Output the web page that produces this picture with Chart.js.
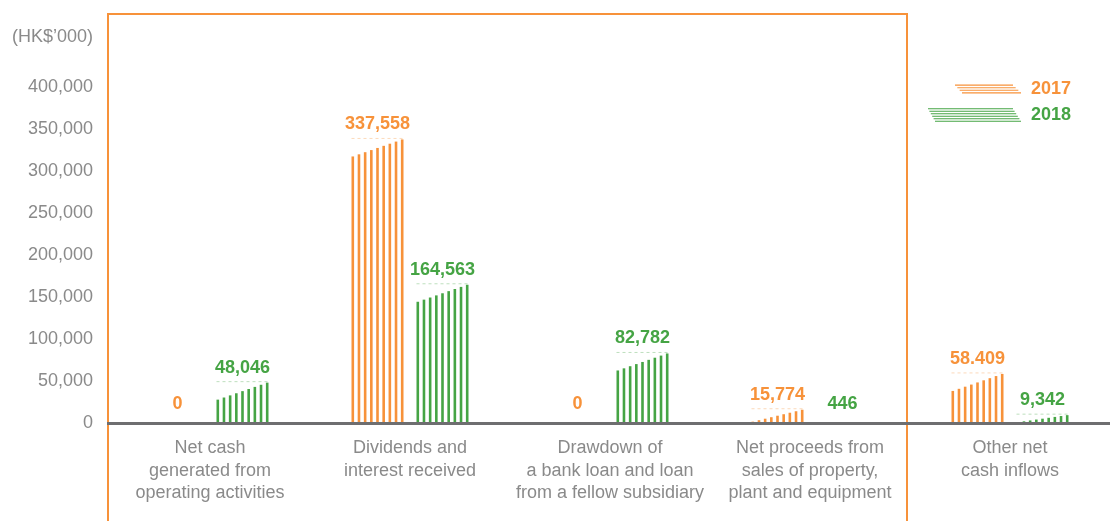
<!DOCTYPE html>
<html lang="en">
<head>
<meta charset="UTF-8">
<title>Cash inflows</title>
<script src="https://cdn.jsdelivr.net/npm/chart.js"></script>
<style>
    body { margin: 0; background: #fff; }
    .wrap { width: 1110px; height: 521px; position: relative; }
</style>
</head>
<body>
<div class="wrap"><canvas id="chart"></canvas></div>
<script>
    // data
    const categories = [
        ['Net cash', 'generated from', 'operating activities'],
        ['Dividends and', 'interest received'],
        ['Drawdown of', 'a bank loan and loan', 'from a fellow subsidiary'],
        ['Net proceeds from', 'sales of property,', 'plant and equipment'],
        ['Other net', 'cash inflows']
    ];
    const seriesNames = ['2017', '2018'];
    const values2017 = [0, 337558, 0, 15774, 58409];
    const values2018 = [48046, 164563, 82782, 446, 9342];
    const labels2017 = ['0', '337,558', '0', '15,774', '58.409'];
    const labels2018 = ['48,046', '164,563', '82,782', '446', '9,342'];
    const yMax = 400000;
    const yStep = 50000;
    const unitText = '(HK$\u2019000)';

    const ORANGE = '#f7923a';
    const GREEN = '#45a444';
    const GREY = '#8a8a8a';
    const FONT = '"Liberation Sans", Arial, sans-serif';

    // striped bars, value labels, frame, legend
    const decor = {
        id: 'decor',
        beforeDraw(chart) {
            const ctx = chart.ctx;
            const x = chart.scales.x;
            const area = chart.chartArea;
            const split = (x.getPixelForValue(3) + x.getPixelForValue(4)) / 2 - 3;
            ctx.save();
            ctx.strokeStyle = ORANGE;
            ctx.lineWidth = 2;
            ctx.beginPath();
            ctx.moveTo(area.left - 2, chart.height);
            ctx.lineTo(area.left - 2, 14);
            ctx.lineTo(split, 14);
            ctx.lineTo(split, chart.height);
            ctx.stroke();
            ctx.fillStyle = GREY;
            ctx.font = '18px ' + FONT;
            ctx.textAlign = 'right';
            ctx.textBaseline = 'middle';
            ctx.fillText(unitText, area.left - 17, 37);
            ctx.restore();
        },
        afterDatasetsDraw(chart) {
            const ctx = chart.ctx;
            const area = chart.chartArea;
            const textSets = [labels2017, labels2018];
            ctx.save();
            chart.data.datasets.forEach((ds, di) => {
                const meta = chart.getDatasetMeta(di);
                meta.data.forEach((bar, i) => {
                    const p = bar.getProps(['x', 'y', 'base', 'width'], true);
                    const h = p.base - p.y;
                    const n = 9, lw = 2.6;
                    if (h > 0.5) {
                        const drop = Math.min(17, h * 0.9);
                        ctx.fillStyle = ds.stripeColor;
                        for (let k = 0; k < n; k++) {
                            const sx = p.x - p.width / 2 + k * (p.width - lw) / (n - 1);
                            const top = p.y + drop * (n - 1 - k) / (n - 1);
                            ctx.fillRect(sx, top, lw, p.base - top);
                        }
                        ctx.strokeStyle = ds.stripeColor;
                        ctx.globalAlpha = 0.35;
                        ctx.lineWidth = 1;
                        ctx.setLineDash([3, 3]);
                        ctx.beginPath();
                        ctx.moveTo(p.x - p.width / 2, p.y - 1);
                        ctx.lineTo(p.x + p.width / 2, p.y - 1);
                        ctx.stroke();
                        ctx.setLineDash([]);
                        ctx.globalAlpha = 1;
                    }
                    ctx.fillStyle = ds.stripeColor;
                    ctx.font = 'bold 18px ' + FONT;
                    ctx.textAlign = 'center';
                    ctx.textBaseline = 'middle';
                    ctx.fillText(textSets[di][i], p.x, Math.min(p.y - 15, p.base - 19));
                });
            });

            // x axis line
            ctx.strokeStyle = '#6e6e70';
            ctx.lineWidth = 3;
            ctx.beginPath();
            ctx.moveTo(area.left - 3, area.bottom + 0.5);
            ctx.lineTo(chart.width, area.bottom + 0.5);
            ctx.stroke();

            // legend
            const legend = [
                { y: 89, lines: 4, gap: 2.6, left: 955, color: ORANGE },
                { y: 115, lines: 6, gap: 2.5, left: 928, color: GREEN }
            ];
            legend.forEach((lg, li) => {
                ctx.strokeStyle = lg.color;
                ctx.lineWidth = 1.1;
                const y0 = lg.y - (lg.lines - 1) * lg.gap / 2;
                for (let k = 0; k < lg.lines; k++) {
                    const yy = y0 + k * lg.gap;
                    const t = k / (lg.lines - 1);
                    ctx.beginPath();
                    ctx.moveTo(lg.left + t * 7, yy);
                    ctx.lineTo(1013 + t * 8, yy);
                    ctx.stroke();
                }
                ctx.fillStyle = lg.color;
                ctx.font = 'bold 18px ' + FONT;
                ctx.textAlign = 'left';
                ctx.textBaseline = 'middle';
                ctx.fillText(seriesNames[li], 1031, lg.y);
            });
            ctx.restore();
        }
    };

    new Chart(document.getElementById('chart'), {
        type: 'bar',
        data: {
            labels: categories,
            datasets: [
                { label: seriesNames[0], data: values2017, stripeColor: ORANGE,
                  backgroundColor: 'rgba(0,0,0,0)', borderWidth: 0,
                  categoryPercentage: 0.65, barPercentage: 0.8 },
                { label: seriesNames[1], data: values2018, stripeColor: GREEN,
                  backgroundColor: 'rgba(0,0,0,0)', borderWidth: 0,
                  categoryPercentage: 0.65, barPercentage: 0.8 }
            ]
        },
        options: {
            responsive: true,
            maintainAspectRatio: false,
            animation: false,
            layout: { padding: { top: 87, right: 0, left: 0, bottom: 0 } },
            plugins: {
                legend: { display: false },
                tooltip: { enabled: false }
            },
            scales: {
                x: {
                    grid: { display: false, drawTicks: false },
                    border: { display: false },
                    ticks: {
                        color: GREY,
                        font: { family: FONT, size: 18, lineHeight: 1.25 },
                        padding: 14,
                        maxRotation: 0,
                        autoSkip: false
                    },
                    afterFit(scale) { scale.height = 98; }
                },
                y: {
                    min: 0,
                    max: yMax,
                    grid: { display: false, drawTicks: false },
                    border: { display: false },
                    ticks: {
                        stepSize: yStep,
                        color: GREY,
                        font: { family: FONT, size: 18 },
                        padding: 17
                    },
                    afterFit(scale) { scale.width = 110; }
                }
            }
        },
        plugins: [decor]
    });
</script>
</body>
</html>
